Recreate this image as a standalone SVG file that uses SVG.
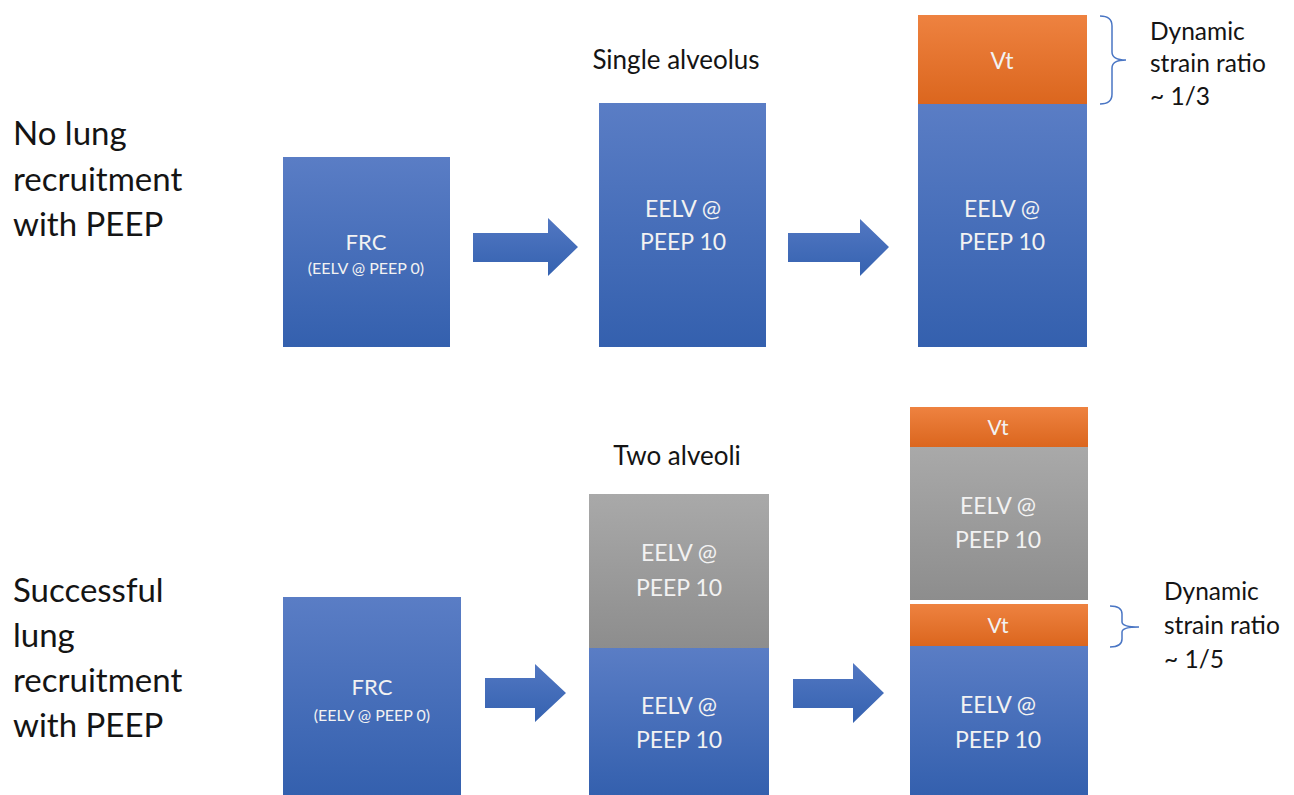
<svg xmlns="http://www.w3.org/2000/svg" width="1294" height="795" viewBox="0 0 1294 795">
<defs>
<linearGradient id="gBlue" x1="0" y1="0" x2="0" y2="1"><stop offset="0" stop-color="#5a7dc5"/><stop offset="1" stop-color="#3460ae"/></linearGradient>
<linearGradient id="gOrange" x1="0" y1="0" x2="0" y2="1"><stop offset="0" stop-color="#ee8240"/><stop offset="1" stop-color="#db661e"/></linearGradient>
<linearGradient id="gGray" x1="0" y1="0" x2="0" y2="1"><stop offset="0" stop-color="#a9a9a9"/><stop offset="1" stop-color="#8d8d8d"/></linearGradient>
<linearGradient id="gArrow" x1="0" y1="0" x2="0" y2="1"><stop offset="0" stop-color="#5277c2"/><stop offset="1" stop-color="#3562b0"/></linearGradient>
<style>
.lbl{font-family:Lato,"Liberation Sans",sans-serif;fill:#141414;}
.side{font-size:33px;}
.hdr{font-size:26px;}
.note{font-size:24.5px;}
.in{font-family:Lato,"Liberation Sans",sans-serif;fill:#f2f2f2;text-anchor:middle;}
.big{font-size:23px;}
.frc{font-size:22px;}
.vts{font-size:21px;}
.sub{font-size:16px;}
.blue{fill:url(#gBlue);}
.orange{fill:url(#gOrange);}
.gray{fill:url(#gGray);}
.arrow{fill:url(#gArrow);}
.brace{fill:none;stroke:#4a76c4;stroke-width:1.5;}
</style>
</defs>
<rect width="1294" height="795" fill="#ffffff"/>

<g id="label-top">
<text class="lbl side" x="13" y="145">No lung</text>
<text class="lbl side" x="13" y="191">recruitment</text>
<text class="lbl side" x="13" y="236">with PEEP</text>
</g>
<g id="label-bottom">
<text class="lbl side" x="13" y="602">Successful</text>
<text class="lbl side" x="13" y="647">lung</text>
<text class="lbl side" x="13" y="692">recruitment</text>
<text class="lbl side" x="13" y="737">with PEEP</text>
</g>

<g id="title-single"><text class="lbl hdr" x="676" y="69" text-anchor="middle">Single alveolus</text></g>
<g id="title-two"><text class="lbl hdr" x="677" y="465" text-anchor="middle">Two alveoli</text></g>

<g id="frc-top">
<rect class="blue" x="283" y="157" width="167" height="190"/>
<text class="in frc" x="366" y="250">FRC</text>
<text class="in sub" x="366" y="274">(EELV @ PEEP 0)</text>
</g>
<g id="eelv-top-mid">
<rect class="blue" x="599" y="103" width="167" height="244"/>
<text class="in big" x="683" y="217">EELV @</text>
<text class="in big" x="683" y="250">PEEP 10</text>
</g>
<g id="vt-top-right">
<rect class="orange" x="918" y="15" width="169" height="89"/>
<text class="in big" x="1002" y="69">Vt</text>
</g>
<g id="eelv-top-right">
<rect class="blue" x="918" y="104" width="169" height="243"/>
<text class="in big" x="1002" y="217">EELV @</text>
<text class="in big" x="1002" y="250">PEEP 10</text>
</g>

<g id="frc-bottom">
<rect class="blue" x="283" y="597" width="178" height="198"/>
<text class="in frc" x="372" y="695">FRC</text>
<text class="in sub" x="372" y="721">(EELV @ PEEP 0)</text>
</g>
<g id="eelv-gray-mid">
<rect class="gray" x="589" y="494" width="180" height="154"/>
<text class="in big" x="679" y="561">EELV @</text>
<text class="in big" x="679" y="596">PEEP 10</text>
</g>
<g id="eelv-blue-mid">
<rect class="blue" x="589" y="648" width="180" height="147"/>
<text class="in big" x="679" y="714">EELV @</text>
<text class="in big" x="679" y="748">PEEP 10</text>
</g>
<g id="vt-bottom-upper">
<rect class="orange" x="910" y="407" width="178" height="40"/>
<text class="in vts" x="998" y="435">Vt</text>
</g>
<g id="eelv-gray-right">
<rect class="gray" x="910" y="447" width="178" height="153"/>
<text class="in big" x="998" y="514">EELV @</text>
<text class="in big" x="998" y="548">PEEP 10</text>
</g>
<g id="vt-bottom-lower">
<rect class="orange" x="910" y="604" width="178" height="42"/>
<text class="in vts" x="998" y="633">Vt</text>
</g>
<g id="eelv-blue-right">
<rect class="blue" x="910" y="646" width="178" height="149"/>
<text class="in big" x="998" y="713">EELV @</text>
<text class="in big" x="998" y="748">PEEP 10</text>
</g>

<g id="connectors">
<polygon class="arrow" points="473,233 548,233 548,218 578,247 548,276 548,262 473,262"/>
<polygon class="arrow" points="788,233 860,233 860,219 889,247 860,276 860,262 788,262"/>
<polygon class="arrow" points="485,678 535,678 535,664 566,693 535,722 535,708 485,708"/>
<polygon class="arrow" points="793,679 853,679 853,663 884,693 853,723 853,708 793,708"/>
</g>

<g id="brace-top">
<path class="brace" d="M1100,16 Q1112,16 1112,26 L1112,52 Q1112,60 1126,60 Q1112,60 1112,68 L1112,94 Q1112,104 1100,104"/>
<text class="lbl note" x="1150" y="40">Dynamic</text>
<text class="lbl note" x="1150" y="72">strain ratio</text>
<text class="lbl note" x="1150" y="105">~ 1/3</text>
</g>
<g id="brace-bottom">
<path class="brace" d="M1110,606 Q1122,606 1122,614 L1122,622 Q1122,627 1139,627 Q1122,627 1122,632 L1122,639 Q1122,647 1110,647"/>
<text class="lbl note" x="1164" y="600">Dynamic</text>
<text class="lbl note" x="1164" y="634">strain ratio</text>
<text class="lbl note" x="1164" y="668">~ 1/5</text>
</g>
</svg>
